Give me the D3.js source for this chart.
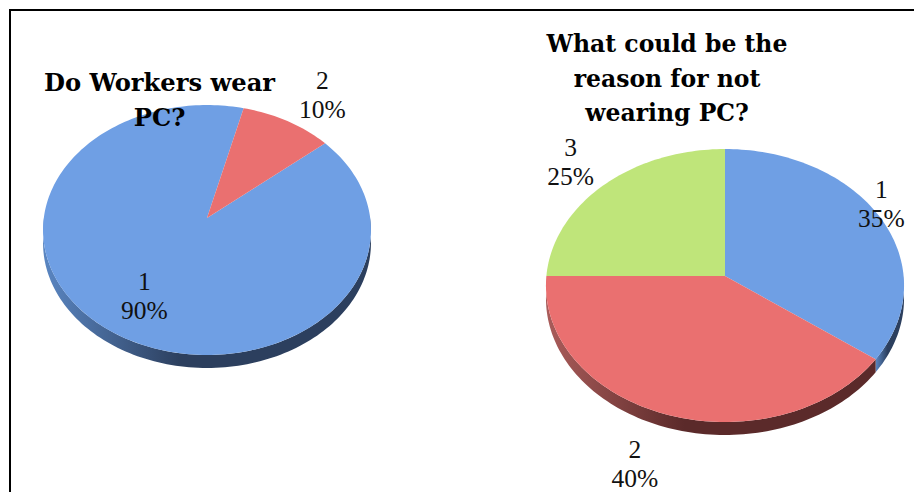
<!DOCTYPE html>
<html>
<head>
<meta charset="utf-8">
<script src="https://cdn.jsdelivr.net/npm/d3@7"></script>
<style>
  html, body { margin: 0; padding: 0; background: #fff; overflow: hidden; }
  svg { display: block; }
</style>
</head>
<body>
<svg id="chart"></svg>
<script>
const width = 914
const height = 492

// data
const wearCategories = ["1", "2"]
const wearValues = [90, 10]
const wearTitle = ["Do Workers wear", "PC?"]

const reasonCategories = ["1", "2", "3"]
const reasonValues = [35, 40, 25]
const reasonTitle = ["What could be the", "reason for not", "wearing PC?"]

const blue = "#6f9fe4"
const red = "#ea7070"
const green = "#bfe57a"

const titleFont = "DejaVu Serif"
const labelFont = "Liberation Serif"

const svg = d3.select("#chart")
    .attr("width", width)
    .attr("height", height)
    .style("background", "#fff")

const defs = svg.append("defs")

// the side wall goes dark from the left edge to the middle of the pie
const wallGradient = (id, light, dark) => {
    const g = defs.append("linearGradient").attr("id", id)
    g.append("stop").attr("offset", "0%").attr("stop-color", light)
    g.append("stop").attr("offset", "42%").attr("stop-color", dark)
    g.append("stop").attr("offset", "100%").attr("stop-color", dark)
}
wallGradient("wall-blue", "#5a86c2", "#2c3f5e")
wallGradient("wall-red", "#aa5c5a", "#5b2a2a")
wallGradient("wall-green", "#8aa85a", "#55683a")

// frame, the right and bottom edges are cut off in the picture
svg.append("path")
    .attr("d", "M10,492V10H914")
    .attr("fill", "none")
    .attr("stroke", "#000")
    .attr("stroke-width", 2)

const drawPie = (cfg) => {
    const pie = d3.pie().sort(null).startAngle(cfg.start).endAngle(cfg.start + 2 * Math.PI)
    const arcs = pie(cfg.values)

    // tilted disc: the far side shrinks and the near side grows
    const project = (angle, r = 1) => {
        const x = Math.sin(angle) * r
        const y = -Math.cos(angle) * r
        const w = 1 - cfg.k * y
        return [cfg.cx + cfg.a * x / w, cfg.cy + cfg.b * y / w]
    }
    const line = d3.line()
    const along = (a0, a1) => {
        const n = Math.max(2, Math.ceil(Math.abs(a1 - a0) * 40))
        return d3.range(n + 1).map(i => project(a0 + (a1 - a0) * i / n))
    }

    const g = svg.append("g")

    // side wall, only between the right and left extremes of the rim
    const rimFrom = Math.PI / 2
    const rimTo = 3 * Math.PI / 2
    arcs.forEach((d, i) => {
        const turns = [-2 * Math.PI, 0, 2 * Math.PI]
        turns.forEach(t => {
            const a0 = Math.max(d.startAngle + t, rimFrom)
            const a1 = Math.min(d.endAngle + t, rimTo)
            if (a1 <= a0) return
            const top = along(a0, a1)
            const bottom = top.map(p => [p[0], p[1] + cfg.depth]).reverse()
            g.append("path")
                .attr("d", line(top.concat(bottom)) + "Z")
                .attr("fill", `url(#${cfg.walls[i]})`)
        })
    })

    // top face
    g.selectAll("path.slice")
        .data(arcs)
        .enter()
        .append("path")
            .attr("class", "slice")
            .attr("d", d => line([[cfg.cx, cfg.cy]].concat(along(d.startAngle, d.endAngle))) + "Z")
            .attr("fill", (d, i) => cfg.colors[i])

    // labels
    arcs.forEach((d, i) => {
        const mid = (d.startAngle + d.endAngle) / 2
        const [x, y] = project(mid)
        const lx = x + cfg.nudge[i][0]
        const ly = y + cfg.nudge[i][1]
        const label = g.append("text")
            .attr("text-anchor", "middle")
            .style("font-family", labelFont)
            .style("font-size", "25.5px")
            .style("fill", "#111")
        label.append("tspan").attr("x", lx).attr("y", ly - 6.5).text(cfg.categories[i])
        label.append("tspan").attr("x", lx).attr("y", ly + 22.5).text(cfg.values[i] + "%")
    })

    // title
    const title = g.append("text")
        .attr("text-anchor", "middle")
        .style("font-family", titleFont)
        .style("font-weight", "bold")
        .style("font-size", cfg.titleSize + "px")
        .style("fill", "#000")
    cfg.title.forEach((t, i) => {
        title.append("tspan")
            .attr("x", cfg.titleX)
            .attr("y", cfg.titleY + i * cfg.titleGap)
            .text(t)
    })
}

drawPie({
    values: wearValues, categories: wearCategories, title: wearTitle,
    colors: [blue, red], walls: ["wall-blue", "wall-red"],
    start: 50.2 * Math.PI / 180,
    cx: 207, cy: 218, a: 163.2, b: 123.8, k: 0.096, depth: 13,
    nudge: [[32, -36], [35, -26]],
    titleX: 159.5, titleY: 91, titleGap: 35, titleSize: 24.2
})

drawPie({
    values: reasonValues, categories: reasonCategories, title: reasonTitle,
    colors: [blue, red, green], walls: ["wall-blue", "wall-red", "wall-green"],
    start: 0,
    cx: 725, cy: 276, a: 178.6, b: 135.8, k: 0.0696, depth: 13,
    nudge: [[2, -12], [-31, 50], [-34, -22]],
    titleX: 667, titleY: 52, titleGap: 34.5, titleSize: 23.5
})
</script>
</body>
</html>
